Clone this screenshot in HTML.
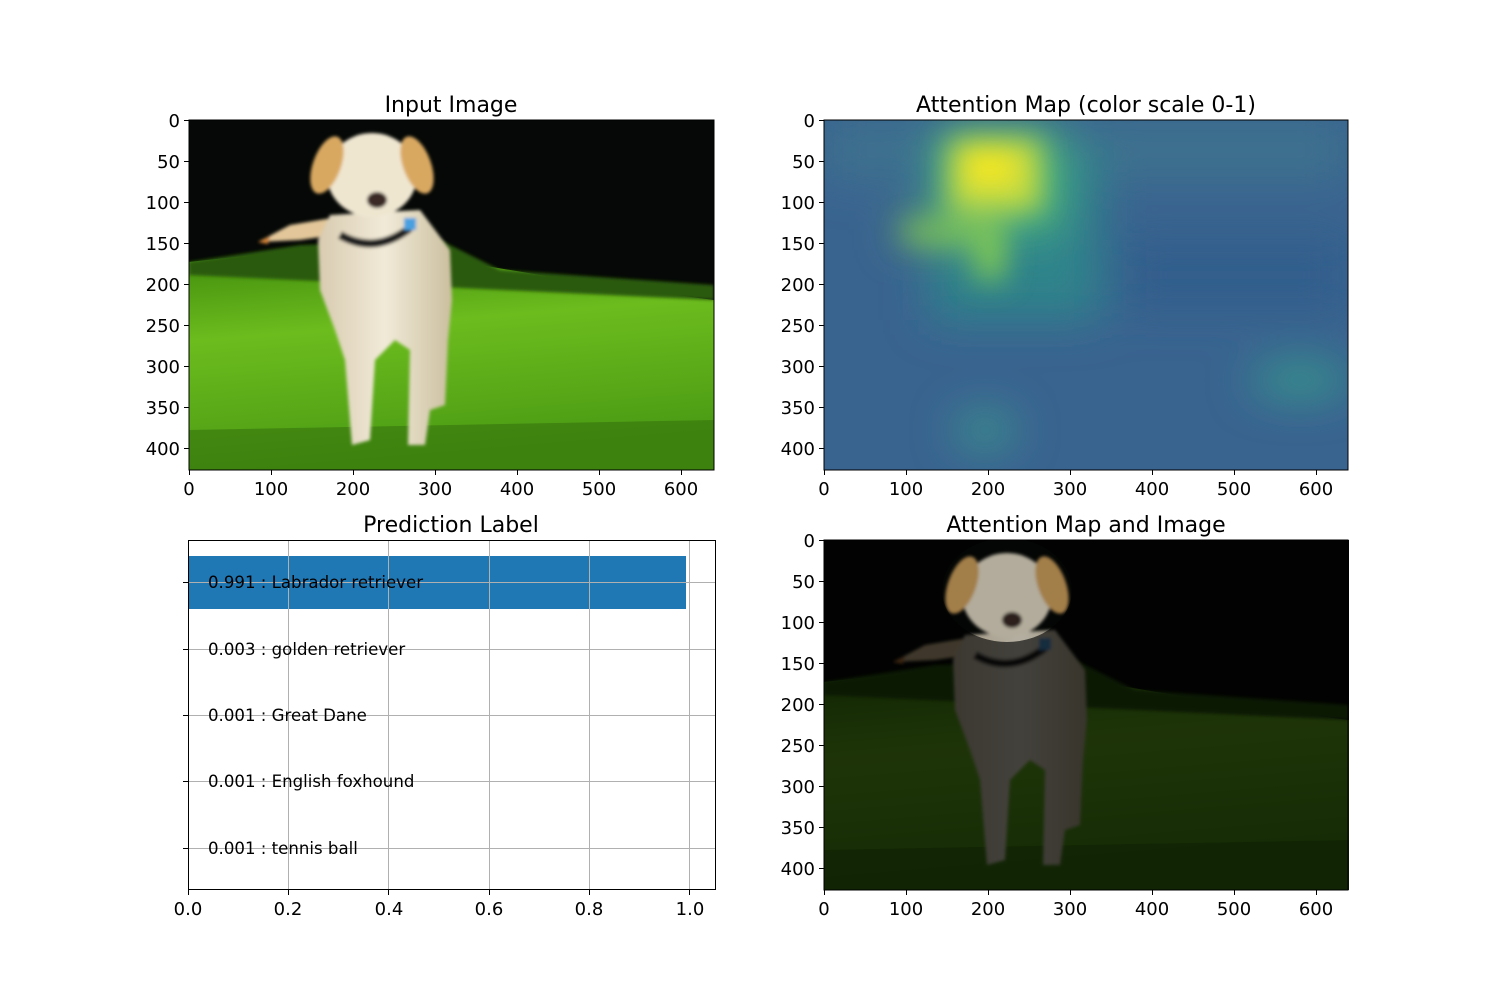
<!DOCTYPE html>
<html><head><meta charset="utf-8"><style>
body{margin:0;background:#fff;}
svg text{font-family:"DejaVu Sans","Liberation Sans",sans-serif;}
</style></head><body>
<svg width="1500" height="1000" viewBox="0 0 1500 1000" xmlns="http://www.w3.org/2000/svg">
<defs>
<filter id="b1" x="-20%" y="-20%" width="140%" height="140%"><feGaussianBlur stdDeviation="1.5"/></filter>
<filter id="b8" x="-50%" y="-50%" width="200%" height="200%"><feGaussianBlur stdDeviation="14"/></filter>
<filter id="b20" x="-50%" y="-50%" width="200%" height="200%"><feGaussianBlur stdDeviation="22"/></filter>
<linearGradient id="grass" x1="0" y1="0" x2="0.2" y2="1">
<stop offset="0" stop-color="#3f8a0c"/><stop offset="0.4" stop-color="#6cbc1e"/><stop offset="1" stop-color="#4a9a14"/></linearGradient>
<linearGradient id="fur" x1="0" y1="0" x2="1" y2="0">
<stop offset="0" stop-color="#d8cbb0"/><stop offset="0.5" stop-color="#f1ead8"/><stop offset="1" stop-color="#cbbf9f"/></linearGradient>
<clipPath id="c1"><rect x="189" y="120" width="525" height="350"/></clipPath>
<clipPath id="c2"><rect x="824" y="120" width="524" height="350"/></clipPath>
<clipPath id="chead"><ellipse cx="372" cy="170" rx="65" ry="52"/></clipPath>
<g id="photo">
<rect x="189" y="120" width="525" height="350" fill="#050806"/>
<polygon points="189,262 300,250 480,265 600,285 714,300 714,470 189,470" fill="url(#grass)"/>
<polygon points="189,262 300,245 440,240 500,270 714,285 714,300 189,275" fill="#2a5a0a" filter="url(#b1)"/>
<polygon points="189,430 714,420 714,470 189,470" fill="#2f6a0a" opacity="0.5"/>
<g filter="url(#b1)">
<polygon points="258,242 290,225 332,218 335,235 300,240" fill="#e3c79a"/>
<polygon points="258,242 270,236 268,244" fill="#d08030"/>
<polygon points="330,215 420,210 450,250 452,300 448,340 445,405 430,410 425,445 408,445 410,350 395,340 375,360 370,440 352,445 345,360 335,330 320,290 318,240" fill="url(#fur)"/>
<ellipse cx="372" cy="175" rx="45" ry="42" fill="#efe6d0"/>
<ellipse cx="327" cy="165" rx="14" ry="30" fill="#d9a860" transform="rotate(20 327 165)"/>
<ellipse cx="417" cy="165" rx="14" ry="30" fill="#d9a860" transform="rotate(-20 417 165)"/>
<ellipse cx="377" cy="200" rx="10" ry="8" fill="#3a2a28"/>
<path d="M340 235 Q375 255 410 228" stroke="#222" stroke-width="8" fill="none"/>
<rect x="404" y="218" width="12" height="12" fill="#4aa0e0"/>
</g>
</g>
</defs>

<g clip-path="url(#c1)"><use href="#photo"/></g>
<rect x="189" y="120" width="525" height="350" fill="none" stroke="#000" stroke-width="1"/>
<text x="451" y="112" font-size="22" text-anchor="middle">Input Image</text>

<g clip-path="url(#c2)">
<rect x="824" y="120" width="524" height="350" fill="#3a6490"/>
<g filter="url(#b20)">
<rect x="824" y="120" width="524" height="60" fill="#3f7b8e" opacity="0.6"/>
<rect x="1120" y="240" width="230" height="70" fill="#2f5b8a" opacity="0.7"/>
<rect x="930" y="150" width="170" height="170" fill="#2a8c8a" opacity="0.8"/>
<rect x="940" y="130" width="120" height="100" fill="#4cb47a"/>
<ellipse cx="1300" cy="380" rx="50" ry="15" fill="#35a08a"/>
<ellipse cx="985" cy="430" rx="30" ry="15" fill="#3aa08a"/>
<rect x="900" y="220" width="80" height="20" fill="#6cbf5a"/>
</g>
<g filter="url(#b8)">
<rect x="950" y="140" width="90" height="70" fill="#c9dc3c"/>
<ellipse cx="990" cy="165" rx="25" ry="20" fill="#f4e61e"/>
<rect x="905" y="225" width="90" height="14" fill="#8fcf4a"/>
<rect x="975" y="220" width="30" height="60" fill="#7ec854"/>
</g>
</g>
<rect x="824" y="120" width="524" height="350" fill="none" stroke="#000"/>
<text x="1086" y="112" font-size="22" text-anchor="middle">Attention Map (color scale 0-1)</text>

<g transform="translate(635,420)">
<g clip-path="url(#c1)"><use href="#photo"/>
<rect x="189" y="120" width="525" height="350" fill="#000" opacity="0.72"/>
</g>
<g clip-path="url(#chead)"><use href="#photo"/>
<rect x="189" y="120" width="525" height="350" fill="#000" opacity="0.25"/>
</g>
</g>
<rect x="824" y="540" width="524" height="350" fill="none" stroke="#000"/>
<text x="1086" y="532" font-size="22" text-anchor="middle">Attention Map and Image</text>

<text x="451" y="532" font-size="22" text-anchor="middle">Prediction Label</text>
<rect x="188" y="556" width="498" height="53" fill="#1f77b4"/>
<g stroke="#b0b0b0" stroke-width="1">
<line x1="188.5" y1="540" x2="188.5" y2="890"/><line x1="288.5" y1="540" x2="288.5" y2="890"/><line x1="388.5" y1="540" x2="388.5" y2="890"/><line x1="489.5" y1="540" x2="489.5" y2="890"/><line x1="589.5" y1="540" x2="589.5" y2="890"/><line x1="689.5" y1="540" x2="689.5" y2="890"/>
<line x1="188" y1="582.5" x2="716" y2="582.5"/><line x1="188" y1="649.5" x2="716" y2="649.5"/><line x1="188" y1="715.5" x2="716" y2="715.5"/><line x1="188" y1="781.5" x2="716" y2="781.5"/><line x1="188" y1="848.5" x2="716" y2="848.5"/>
</g>
<rect x="188.5" y="540.5" width="527" height="349" fill="none" stroke="#000"/>
<g font-size="16.6">
<text x="208" y="588">0.991 : Labrador retriever</text>
<text x="208" y="655">0.003 : golden retriever</text>
<text x="208" y="721">0.001 : Great Dane</text>
<text x="208" y="787">0.001 : English foxhound</text>
<text x="208" y="854">0.001 : tennis ball</text>
</g>
<g stroke="#000"><line x1="183" y1="582.5" x2="188" y2="582.5"/><line x1="183" y1="649.5" x2="188" y2="649.5"/><line x1="183" y1="715.5" x2="188" y2="715.5"/><line x1="183" y1="781.5" x2="188" y2="781.5"/><line x1="183" y1="848.5" x2="188" y2="848.5"/>
<line x1="188.5" y1="890" x2="188.5" y2="895"/><line x1="288.5" y1="890" x2="288.5" y2="895"/><line x1="388.5" y1="890" x2="388.5" y2="895"/><line x1="489.5" y1="890" x2="489.5" y2="895"/><line x1="589.5" y1="890" x2="589.5" y2="895"/><line x1="689.5" y1="890" x2="689.5" y2="895"/></g>
<g font-size="18" text-anchor="middle">
<text x="188" y="915">0.0</text><text x="288" y="915">0.2</text><text x="389" y="915">0.4</text><text x="489" y="915">0.6</text><text x="589" y="915">0.8</text><text x="690" y="915">1.0</text>
</g>

<g id="ticks">
<g stroke="#000">
<line x1="184" y1="120.5" x2="189" y2="120.5"/><line x1="184" y1="161.5" x2="189" y2="161.5"/><line x1="184" y1="202.5" x2="189" y2="202.5"/><line x1="184" y1="243.5" x2="189" y2="243.5"/><line x1="184" y1="284.5" x2="189" y2="284.5"/><line x1="184" y1="325.5" x2="189" y2="325.5"/><line x1="184" y1="366.5" x2="189" y2="366.5"/><line x1="184" y1="407.5" x2="189" y2="407.5"/><line x1="184" y1="448.5" x2="189" y2="448.5"/>
<line x1="189.5" y1="470" x2="189.5" y2="475"/><line x1="271.5" y1="470" x2="271.5" y2="475"/><line x1="353.5" y1="470" x2="353.5" y2="475"/><line x1="435.5" y1="470" x2="435.5" y2="475"/><line x1="517.5" y1="470" x2="517.5" y2="475"/><line x1="599.5" y1="470" x2="599.5" y2="475"/><line x1="681.5" y1="470" x2="681.5" y2="475"/>
</g>
<g font-size="18" text-anchor="end">
<text x="180" y="127">0</text><text x="180" y="168">50</text><text x="180" y="209">100</text><text x="180" y="250">150</text><text x="180" y="291">200</text><text x="180" y="332">250</text><text x="180" y="373">300</text><text x="180" y="414">350</text><text x="180" y="455">400</text>
</g>
<g font-size="18" text-anchor="middle">
<text x="189" y="495">0</text><text x="271" y="495">100</text><text x="353" y="495">200</text><text x="435" y="495">300</text><text x="517" y="495">400</text><text x="599" y="495">500</text><text x="681" y="495">600</text>
</g>
</g>
<use href="#ticks" transform="translate(635,0)"/>
<use href="#ticks" transform="translate(635,420)"/>
</svg>
</body></html>
